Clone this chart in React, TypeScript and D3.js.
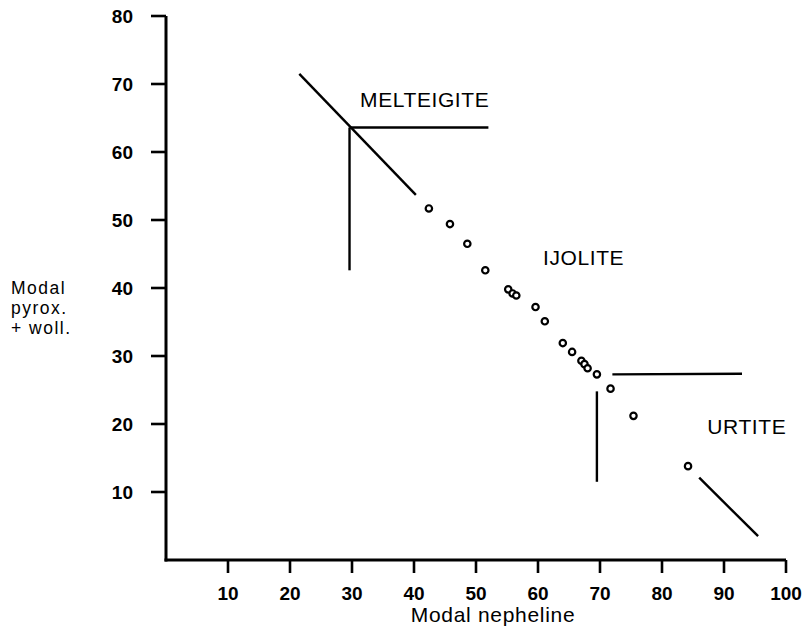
import React from 'react'
import * as d3 from 'd3'

// modal nepheline (x) and modal pyroxene + wollastonite (y) per sample
const nepheline = [42.4, 45.8, 48.6, 51.5, 55.2, 55.9, 56.5, 59.6, 61.1, 64.0, 65.5, 67.0, 67.5, 68.0, 69.5, 71.7, 75.4, 84.2]
const pyroxWoll = [51.7, 49.4, 46.5, 42.6, 39.8, 39.2, 38.9, 37.2, 35.1, 31.9, 30.6, 29.3, 28.8, 28.2, 27.3, 25.2, 21.2, 13.8]

// field boundaries, [x1, y1, x2, y2] in data units
const boundaries = [
  [21.5, 71.5, 40.3, 53.7],
  [29.6, 63.6, 52.0, 63.6],
  [29.6, 63.6, 29.6, 42.6],
  [72.0, 27.3, 92.9, 27.4],
  [69.5, 24.8, 69.5, 11.5],
  [86.0, 12.1, 95.5, 3.5],
]

const fieldNames = ['MELTEIGITE', 'IJOLITE', 'URTITE']
const fieldX = [31.3, 60.8, 87.3]
const fieldY = [66.6, 43.4, 18.5]

const xTicks = [10, 20, 30, 40, 50, 60, 70, 80, 90, 100]
const yTicks = [10, 20, 30, 40, 50, 60, 70, 80]
const yTitle = ['Modal', 'pyrox.', '+ woll.']

export default function App() {
  const x = d3.scaleLinear().domain([0, 100]).range([166, 786])
  const y = d3.scaleLinear().domain([0, 80]).range([560, 16])
  const font = '"Liberation Sans", Arial, Helvetica, sans-serif'

  return (
    <svg width={803} height={627} style={{ position: 'absolute', left: 0, top: 0, background: '#fff' }}
      fontFamily={font}>
      {/* axes */}
      <line x1={x(0)} x2={x(0)} y1={y(80)} y2={y(0) + 1.5} stroke="#000" strokeWidth={3} />
      <line x1={x(0) - 1.5} x2={x(100)} y1={y(0)} y2={y(0)} stroke="#000" strokeWidth={3} />

      {yTicks.map(t => (
        <g key={'y' + t}>
          <line x1={x(0) - 15} x2={x(0)} y1={y(t)} y2={y(t)} stroke="#000" strokeWidth={2.6} />
          <text x={133} y={y(t)} dy="0.38em" textAnchor="end" fontSize={19} fontWeight="bold">{t}</text>
        </g>
      ))}
      {xTicks.map(t => (
        <g key={'x' + t}>
          <line x1={x(t)} x2={x(t)} y1={y(0)} y2={y(0) + 13} stroke="#000" strokeWidth={2.6} />
          <text x={x(t)} y={600} textAnchor="middle" fontSize={19} fontWeight="bold">{t}</text>
        </g>
      ))}

      <text x={493} y={622} textAnchor="middle" fontSize={21} letterSpacing={0.7}>Modal nepheline</text>
      {yTitle.map((s, i) => (
        <text key={s} x={11} y={294 + i * 20} fontSize={17.5} letterSpacing={1.5}>{s}</text>
      ))}

      {boundaries.map((b, i) => (
        <line key={'b' + i} x1={x(b[0])} y1={y(b[1])} x2={x(b[2])} y2={y(b[3])} stroke="#000" strokeWidth={2.4} />
      ))}

      {fieldNames.map((n, i) => (
        <text key={n} x={x(fieldX[i])} y={y(fieldY[i])} fontSize={21} letterSpacing={0.6}>{n}</text>
      ))}

      {nepheline.map((v, i) => (
        <circle key={'p' + i} cx={x(v)} cy={y(pyroxWoll[i])} r={3.2} fill="#fff" stroke="#000" strokeWidth={2.2} />
      ))}
    </svg>
  )
}
